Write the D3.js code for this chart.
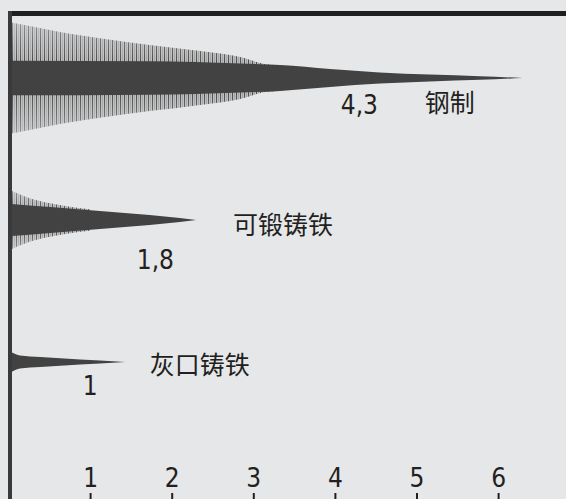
<!DOCTYPE html>
<html><head><meta charset="utf-8">
<script src="https://cdn.jsdelivr.net/npm/d3@7/dist/d3.min.js"></script>
<style>
html,body{margin:0;padding:0;background:#e6e7e9;}
svg{display:block;}
.num{font-family:"Liberation Sans Narrow","Arial Narrow","DejaVu Sans Condensed",sans-serif;font-size:26px;fill:#231f20;}
.cjk{font-family:"Noto Sans CJK SC","Noto Sans CJK JP",sans-serif;font-size:25px;fill:#231f20;}
</style></head>
<body>
<svg id="chart" width="566" height="499"></svg>
<script>
// ---- data ----
const categories = ["钢制", "可锻铸铁", "灰口铸铁"];
const dampingValues = [4.3, 1.8, 1];
const valueLabels = ["4,3", "1,8", "1"];
const tickValues = [1, 2, 3, 4, 5, 6];
// envelope readings: [x on axis units, relative half-amplitude]
const steelCore = [[0,0.31],[1.73,0.30],[2.84,0.26],[3.33,0.23],[3.94,0.16],[4.55,0.10],[5.16,0.062],[5.78,0.032],[6.30,0]];
const steelSpikes = [[0,1.0],[0.26,0.93],[0.63,0.82],[1.12,0.71],[1.73,0.59],[2.35,0.48],[2.84,0.375],[3.14,0.25],[3.3,0.23]];
const malleableCore = [[0,0.29],[0.51,0.23],[1.12,0.16],[1.73,0.09],[2.10,0.036],[2.30,0]];
const malleableSpikes = [[0,0.55],[0.26,0.39],[0.51,0.30],[0.88,0.21],[1.0,0.19]];
const grayCore = [[0,0.205],[0.07,0.15],[0.14,0.116],[0.39,0.089],[0.88,0.045],[1.12,0.027],[1.43,0]];
const graySpikes = [];

const cores = [steelCore, malleableCore, grayCore];
const spikes = [steelSpikes, malleableSpikes, graySpikes];

// ---- layout (not data) ----
const W = 566, H = 499;
const valueLabelDy = [36, 49, 33];
const nameLabelX = [5.1, 2.75, 1.73];
const nameLabelDy = [23, 3, 1];

const svg = d3.select("#chart");
svg.append("rect").attr("width", W).attr("height", H).attr("fill", "#e6e7e9");

const x = d3.scaleLinear().domain([0, 7]).range([8.5, 8.5 + 81.6 * 7]);
const row = d3.scalePoint().domain(categories).range([78, 362]);
const amp = d3.scaleLinear().domain([0, 1]).range([0, 56]);

const defs = svg.append("defs");
const pat = defs.append("pattern").attr("id", "hair").attr("patternUnits", "userSpaceOnUse")
  .attr("width", 4).attr("height", 8);
pat.append("rect").attr("x", 0).attr("width", 1).attr("height", 8).attr("fill", "#3e3e3e");
pat.append("rect").attr("x", 1.6).attr("width", 1).attr("height", 8).attr("fill", "#6c6c6c");
pat.append("rect").attr("x", 3).attr("width", 0.6).attr("height", 8).attr("fill", "#9a9a9a");

categories.forEach((c, i) => {
  const cy = row(c);
  const area = d3.area()
    .x(d => x(d[0]))
    .y0(d => cy - amp(d[1]))
    .y1(d => cy + amp(d[1]))
    .curve(d3.curveMonotoneX);
  if (spikes[i].length) {
    const maxA = amp(d3.max(spikes[i], d => d[1]));
    const gid = "fade" + i;
    const lg = defs.append("linearGradient").attr("id", gid).attr("gradientUnits", "userSpaceOnUse")
      .attr("x1", 0).attr("x2", 0).attr("y1", cy - maxA).attr("y2", cy + maxA);
    [[0, 0.5], [0.35, 0.9], [0.5, 1], [0.65, 0.9], [1, 0.5]].forEach(s =>
      lg.append("stop").attr("offset", s[0]).attr("stop-color", "#fff").attr("stop-opacity", s[1]));
    const mk = defs.append("mask").attr("id", "m" + i).attr("maskUnits", "userSpaceOnUse")
      .attr("x", 0).attr("y", 0).attr("width", W).attr("height", H);
    mk.append("rect").attr("x", 0).attr("y", cy - maxA - 2).attr("width", W).attr("height", 2 * maxA + 4)
      .attr("fill", `url(#${gid})`);
    svg.append("path").datum(spikes[i]).attr("d", area).attr("fill", "url(#hair)")
      .attr("mask", `url(#m${i})`);
  }
  svg.append("path").datum(cores[i]).attr("d", area).attr("fill", "#424243");

  svg.append("text").attr("class", "num")
    .attr("x", x(dampingValues[i])).attr("y", cy + valueLabelDy[i])
    .attr("text-anchor", "middle").text(valueLabels[i]);

  svg.append("text").attr("class", "cjk")
    .attr("x", x(nameLabelX[i])).attr("y", cy + nameLabelDy[i])
    .attr("dominant-baseline", "central").text(c);
});

// frame lines
svg.append("rect").attr("x", x(0) - 0.5).attr("y", 11).attr("width", W).attr("height", 5).attr("fill", "#1f1f1f");
svg.append("rect").attr("x", x(0) - 0.5).attr("y", 11).attr("width", 4).attr("height", H - 11).attr("fill", "#3a3a3a");

// axis
const axis = d3.axisTop(x).tickValues(tickValues).tickSize(6).tickPadding(6).tickFormat(d3.format("d"));
const g = svg.append("g").attr("transform", `translate(0,${H})`).call(axis);
g.select(".domain").remove();
g.selectAll(".tick line").attr("stroke", "#231f20").attr("stroke-width", 2);
g.selectAll(".tick text").attr("class", "num").attr("fill", "#231f20")
  .style("font-family", "'Liberation Sans Narrow','Arial Narrow','DejaVu Sans Condensed',sans-serif")
  .style("font-size", "26px");
</script>
</body></html>
